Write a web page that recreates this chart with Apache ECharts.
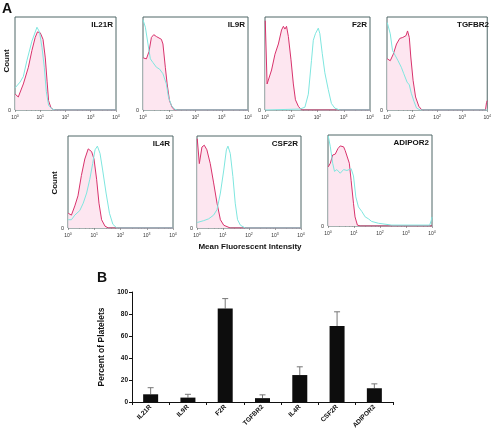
<!DOCTYPE html>
<html><head><meta charset="utf-8">
<script src="https://cdn.jsdelivr.net/npm/echarts@6/dist/echarts.min.js"></script>
<style>html,body{margin:0;padding:0;background:#fff}#c{width:494px;height:433px}</style>
</head><body><div id="c"></div>
<script>
// ---- Panel A: histogram data, [log10 intensity, relative count] ----
const panelNames = ['IL21R','IL9R','F2R','TGFBR2','IL4R','CSF2R','ADIPOR2'];
const il21rRed = [[0.01,0.17],[0.13,0.14],[0.33,0.28],[0.53,0.46],[0.67,0.64],[0.8,0.78],[0.89,0.84],[1.0,0.83],[1.11,0.76],[1.2,0.56],[1.27,0.31],[1.33,0.1],[1.43,0.02],[1.55,0],[4,0]];
const il21rCyan = [[0.01,0.24],[0.2,0.3],[0.33,0.36],[0.47,0.53],[0.67,0.74],[0.87,0.89],[0.97,0.84],[1.07,0.67],[1.16,0.46],[1.24,0.2],[1.33,0.05],[1.47,0.01],[1.6,0],[4,0]];
const il9rRed = [[0.01,0.56],[0.13,0.55],[0.23,0.63],[0.32,0.78],[0.41,0.81],[0.51,0.79],[0.7,0.76],[0.76,0.71],[0.85,0.46],[0.92,0.28],[1.01,0.1],[1.11,0.03],[1.2,0],[4,0]];
const il9rCyan = [[0.0,0.97],[0.09,0.89],[0.19,0.71],[0.28,0.55],[0.38,0.51],[0.51,0.46],[0.63,0.44],[0.76,0.39],[0.89,0.28],[0.97,0.14],[1.08,0.05],[1.2,0.01],[1.3,0],[4,0]];
const f2rRed = [[0.01,0.96],[0.08,0.28],[0.15,0.28],[0.25,0.43],[0.38,0.6],[0.51,0.71],[0.63,0.86],[0.7,0.9],[0.76,0.87],[0.82,0.9],[0.89,0.79],[0.99,0.54],[1.08,0.28],[1.16,0.11],[1.27,0.04],[1.39,0],[4,0]];
const f2rCyan = [[0.0,0.0],[1.33,0.01],[1.52,0.03],[1.65,0.17],[1.77,0.53],[1.84,0.75],[1.92,0.82],[2.03,0.88],[2.09,0.82],[2.18,0.61],[2.28,0.4],[2.41,0.22],[2.53,0.07],[2.66,0.02],[2.85,0],[4,0]];
const tgfbr2Red = [[0.01,0.55],[0.13,0.53],[0.25,0.6],[0.38,0.71],[0.51,0.77],[0.63,0.78],[0.76,0.8],[0.82,0.85],[0.89,0.78],[0.95,0.57],[1.04,0.32],[1.14,0.14],[1.27,0.04],[1.39,0],[3.93,0],[3.97,0.08],[4,0.1]];
const tgfbr2Cyan = [[0.01,0.94],[0.13,0.82],[0.22,0.64],[0.32,0.59],[0.44,0.53],[0.57,0.46],[0.67,0.39],[0.8,0.3],[0.89,0.27],[0.97,0.18],[1.08,0.09],[1.18,0.02],[1.33,0],[4,0]];
const il4rRed = [[0.01,0.16],[0.13,0.14],[0.26,0.24],[0.38,0.35],[0.51,0.57],[0.64,0.75],[0.77,0.86],[0.9,0.83],[0.99,0.75],[1.09,0.53],[1.18,0.27],[1.28,0.09],[1.41,0.02],[1.54,0],[4,0]];
const il4rCyan = [[0.01,0.09],[0.13,0.09],[0.26,0.14],[0.45,0.19],[0.58,0.27],[0.71,0.38],[0.83,0.53],[0.94,0.7],[1.03,0.85],[1.12,0.89],[1.22,0.81],[1.32,0.63],[1.45,0.38],[1.58,0.16],[1.71,0.04],[1.86,0],[4,0]];
const csf2rRed = [[0.01,0.97],[0.09,0.7],[0.19,0.88],[0.28,0.9],[0.38,0.85],[0.51,0.7],[0.64,0.49],[0.77,0.27],[0.9,0.09],[1.03,0.03],[1.28,0],[4,0]];
const csf2rCyan = [[0.01,0.06],[0.26,0.08],[0.45,0.1],[0.64,0.14],[0.77,0.2],[0.9,0.38],[1.03,0.63],[1.13,0.85],[1.19,0.89],[1.28,0.81],[1.38,0.56],[1.47,0.27],[1.56,0.09],[1.67,0.03],[1.86,0],[4,0]];
const adipor2Red = [[0.01,0.65],[0.09,0.69],[0.18,0.78],[0.28,0.79],[0.38,0.85],[0.47,0.88],[0.6,0.87],[0.66,0.83],[0.73,0.83],[0.82,0.69],[0.89,0.5],[0.98,0.25],[1.04,0.1],[1.13,0.01],[1.24,0],[4,0]];
const adipor2Cyan = [[0.01,0.99],[0.09,0.87],[0.18,0.69],[0.25,0.6],[0.34,0.62],[0.47,0.58],[0.6,0.62],[0.73,0.61],[0.89,0.63],[0.98,0.55],[1.07,0.32],[1.17,0.21],[1.3,0.16],[1.43,0.1],[1.55,0.08],[1.68,0.05],[1.94,0.03],[2.45,0.01],[3.46,0.01],[3.91,0.01],[3.97,0.06],[4,0.1]];
const redSeries = [il21rRed, il9rRed, f2rRed, tgfbr2Red, il4rRed, csf2rRed, adipor2Red];
const cyanSeries = [il21rCyan, il9rCyan, f2rCyan, tgfbr2Cyan, il4rCyan, csf2rCyan, adipor2Cyan];

// ---- Panel B: bar chart data ----
const barCategories = ['IL21R','IL9R','F2R','TGFBR2','IL4R','CSF2R','ADIPOR2'];
const barValues = [7, 4, 85, 3.5, 24.5, 69, 12.5];
const barErrors = [6, 3, 9, 3, 7.5, 13, 4];
const barTicks = [0, 20, 40, 60, 80, 100];

// ---- layout ----
const boxes = [
  {left:15, top:17, w:101, h:93},
  {left:143, top:17, w:105, h:93},
  {left:265, top:17, w:105, h:93},
  {left:387, top:17, w:105, h:93},
  {left:68, top:136, w:105, h:92},
  {left:197, top:136, w:104, h:92},
  {left:328, top:135, w:104, h:91}
];
const FONT = '"Liberation Sans", Arial, sans-serif';
const grid = [], xAxis = [], yAxis = [], series = [], graphic = [];
boxes.forEach((b, i) => {
  grid.push({left:b.left, top:b.top, width:b.w, height:b.h, show:true, borderColor:'#4f6666', borderWidth:1, backgroundColor:'#fff', containLabel:false});
  xAxis.push({type:'log', logBase:10, min:1, max:10000, gridIndex:i,
    axisLine:{show:false}, splitLine:{show:false},
    axisTick:{show:true, length:2, lineStyle:{color:'#666', width:0.6}},
    minorTick:{show:true, splitNumber:5, length:1, lineStyle:{color:'#888', width:0.5}},
    axisLabel:{margin:4, color:'#333', fontFamily:FONT,
      formatter: v => '{b|10}{s|' + Math.round(Math.log10(v)) + '}',
      rich:{b:{fontSize:5, fontFamily:FONT, color:'#333'}, s:{fontSize:3.5, fontFamily:FONT, color:'#333', padding:[0,0,4,0]}}}
  });
  yAxis.push({type:'value', min:0, max:1, interval:1, gridIndex:i,
    axisLine:{show:false}, splitLine:{show:false}, axisTick:{show:false},
    axisLabel:{fontSize:5.5, margin:4, color:'#333', fontFamily:FONT, formatter: v => v === 0 ? '0' : ''}});
  series.push({type:'line', xAxisIndex:i, yAxisIndex:i, showSymbol:false, silent:true,
    data: redSeries[i].map(p => [Math.pow(10, p[0]), p[1]]),
    lineStyle:{color:'#d8326c', width:1}, areaStyle:{color:'#fde6f0', opacity:1}, z:2});
  series.push({type:'line', xAxisIndex:i, yAxisIndex:i, showSymbol:false, silent:true,
    data: cyanSeries[i].map(p => [Math.pow(10, p[0]), p[1]]),
    lineStyle:{color:'#7fe6df', width:1}, z:3});
  graphic.push({type:'text', right: 494 - (b.left + b.w) + 3, top: b.top + 4, z:10,
    style:{text:panelNames[i], font:'bold 8px ' + FONT, fill:'#111'}});
});

// bar chart
const bi = boxes.length;
grid.push({left:132, top:292, width:261, height:110});
xAxis.push({type:'category', gridIndex:bi, data:barCategories,
  axisLine:{lineStyle:{color:'#111', width:1}},
  axisTick:{show:true, length:3, lineStyle:{color:'#111'}},
  axisLabel:{rotate:45, interval:0, fontSize:6.5, fontWeight:'bold', color:'#111', margin:4, fontFamily:FONT}});
yAxis.push({type:'value', gridIndex:bi, min:0, max:100, interval:20,
  axisLine:{show:true, lineStyle:{color:'#111', width:1}},
  axisTick:{show:true, length:3, lineStyle:{color:'#111'}},
  splitLine:{show:false},
  axisLabel:{fontSize:6.5, fontWeight:'bold', color:'#111', margin:4, fontFamily:FONT, formatter: v => barTicks.includes(v) ? String(v) : ''},
  name:'Percent of Platelets', nameLocation:'middle', nameGap:22,
  nameTextStyle:{fontSize:8.5, fontWeight:'bold', color:'#111', fontFamily:FONT}});
series.push({type:'custom', xAxisIndex:bi, yAxisIndex:bi, z:1,
  data: barValues.map((v, k) => [k, v, v + barErrors[k]]),
  renderItem: (params, api) => {
    const p0 = api.coord([api.value(0), api.value(1)]);
    const p1 = api.coord([api.value(0), api.value(2)]);
    return {type:'group', children:[
      {type:'line', shape:{x1:p0[0], y1:p0[1], x2:p1[0], y2:p1[1]}, style:{stroke:'#777', lineWidth:1}},
      {type:'line', shape:{x1:p1[0]-3, y1:p1[1], x2:p1[0]+3, y2:p1[1]}, style:{stroke:'#777', lineWidth:1}}
    ]};
  }});
series.push({type:'bar', xAxisIndex:bi, yAxisIndex:bi, data:barValues, barWidth:15, z:2,
  itemStyle:{color:'#0d0d0d'}});

graphic.push(
  {type:'text', left:2, top:2, style:{text:'A', font:'bold 14px ' + FONT, fill:'#111'}},
  {type:'text', left:97, top:271, style:{text:'B', font:'bold 14px ' + FONT, fill:'#111'}},
  {type:'text', x:7, y:61, rotation:Math.PI/2, style:{text:'Count', font:'bold 8px ' + FONT, fill:'#111', align:'center', verticalAlign:'middle'}},
  {type:'text', x:55, y:183, rotation:Math.PI/2, style:{text:'Count', font:'bold 8px ' + FONT, fill:'#111', align:'center', verticalAlign:'middle'}},
  {type:'text', x:250, y:247, style:{text:'Mean Fluorescent Intensity', font:'bold 8px ' + FONT, fill:'#111', align:'center', verticalAlign:'middle'}}
);

const chart = echarts.init(document.getElementById('c'), null, {renderer:'canvas'});
chart.setOption({animation:false, backgroundColor:'#fff', grid, xAxis, yAxis, series, graphic});
</script></body></html>
